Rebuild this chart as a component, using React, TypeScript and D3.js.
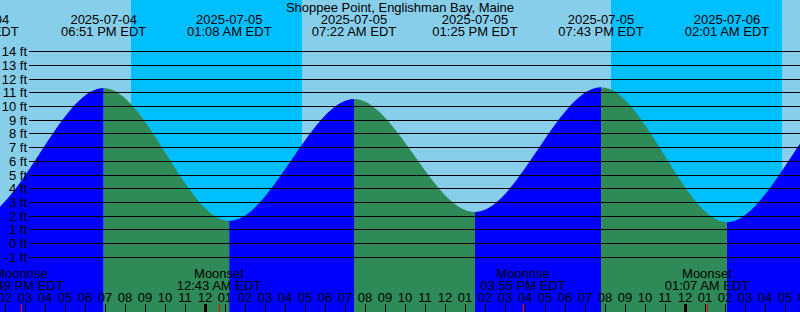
import React, { useEffect, useRef } from "react";
import * as d3 from "d3";

const title = "Shoppee Point, Englishman Bay, Maine";

// wall clock times in EDT, treated as UTC so the browser zone does not matter
const startTime = "2025-07-04 13:40";
const endTime = "2025-07-06 05:40";

// high / low tides (first and last are off the chart, they only shape the curve)
const tideTimes = [
  "2025-07-04 06:05",
  "2025-07-04 12:28",
  "2025-07-04 18:51",
  "2025-07-05 01:08",
  "2025-07-05 07:22",
  "2025-07-05 13:25",
  "2025-07-05 19:43",
  "2025-07-06 02:01",
  "2025-07-06 08:18",
  "2025-07-06 14:30",
];
const tideHeights = [10.7, 1.8, 11.35, 1.65, 10.55, 2.3, 11.4, 1.55, 10.8, 2.1];

const sunsetTimes = ["2025-07-04 20:13", "2025-07-05 20:13"];
const sunriseTimes = ["2025-07-05 04:46", "2025-07-06 04:46"];

const moonNames = ["Moonrise", "Moonset", "Moonrise", "Moonset"];
const moonTimes = ["2025-07-04 14:49", "2025-07-05 00:43", "2025-07-05 15:55", "2025-07-06 01:07"];

const levelTicks = [-1, 0, 1, 2, 3, 4, 5, 6, 7, 8, 9, 10, 11, 12, 13, 14];

const nowTime = "2025-07-04 15:32";
const nowLevel = 6;

const parse = d3.utcParse("%Y-%m-%d %H:%M");

function TideChart() {
  const ref = useRef<SVGSVGElement>(null);

  useEffect(() => {
    const width = 800;
    const height = 312;
    const font = "Liberation Sans, Arial, sans-serif";
    const fontSize = 13;
    const dayColor = "#87ceeb";
    const nightColor = "#00bfff";
    const tickShift = -2;

    const svg = d3.select(ref.current);
    svg.selectAll("*").remove();

    const x = d3
      .scaleUtc()
      .domain([parse(startTime)!, parse(endTime)!])
      .range([0, width]);

    const y = d3.scaleLinear().domain([-1, 14]).range([257.3, 51.7]);

    // sky
    svg.append("rect").attr("width", width).attr("height", height).attr("fill", dayColor);
    sunsetTimes.forEach((s, i) => {
      const x0 = x(parse(s)!);
      const x1 = x(parse(sunriseTimes[i])!);
      svg
        .append("rect")
        .attr("x", x0)
        .attr("y", 0)
        .attr("width", x1 - x0)
        .attr("height", height)
        .attr("fill", nightColor);
    });

    // tide
    const tides = tideTimes.map((t, i) => ({ time: parse(t)!, level: tideHeights[i] }));
    const area = d3
      .area<{ time: Date; level: number }>()
      .x((d) => x(d.time))
      .y0(height)
      .y1((d) => y(d.level))
      .curve(d3.curveMonotoneX);

    const defs = svg.append("defs");
    for (let i = 0; i < tides.length - 1; i++) {
      const a = tides[i];
      const b = tides[i + 1];
      const id = "seg" + i;
      defs
        .append("clipPath")
        .attr("id", id)
        .append("rect")
        .attr("x", x(a.time))
        .attr("y", 0)
        .attr("width", x(b.time) - x(a.time))
        .attr("height", height);
      svg
        .append("path")
        .datum(tides)
        .attr("clip-path", `url(#${id})`)
        .attr("fill", b.level > a.level ? "#0000ff" : "#2e8b57")
        .attr("d", area);
    }

    // level grid
    const grid = svg.append("g");
    levelTicks.forEach((v) => {
      const yy = Math.floor(y(v)) + 0.5;
      grid
        .append("line")
        .attr("x1", 29)
        .attr("x2", width)
        .attr("y1", yy)
        .attr("y2", yy)
        .attr("stroke", "black")
        .attr("stroke-width", 1);
      grid
        .append("text")
        .attr("x", 27)
        .attr("y", yy + 4.5)
        .attr("text-anchor", "end")
        .attr("font-family", font)
        .attr("font-size", fontSize)
        .text(`${v} ft`);
    });

    // current level marker
    const nx = Math.round(x(parse(nowTime)!)) + 0.5;
    const ny = Math.floor(y(nowLevel)) + 0.5;
    svg
      .append("path")
      .attr("d", `M${nx - 4},${ny}H${nx + 4}M${nx},${ny - 4.5}V${ny + 4.5}`)
      .attr("stroke", "black")
      .attr("fill", "none");

    // title and tide labels
    svg
      .append("text")
      .attr("x", width / 2)
      .attr("y", 12)
      .attr("text-anchor", "middle")
      .attr("font-family", font)
      .attr("font-size", fontSize)
      .text(title);

    const fmtDate = d3.utcFormat("%Y-%m-%d");
    const fmtTime = d3.utcFormat("%I:%M %p EDT");
    const tideLabels = svg
      .append("g")
      .attr("font-family", font)
      .attr("font-size", fontSize)
      .attr("text-anchor", "middle");
    tides.forEach((d) => {
      const cx = x(d.time);
      tideLabels.append("text").attr("x", cx).attr("y", 24).text(fmtDate(d.time));
      tideLabels.append("text").attr("x", cx).attr("y", 36).text(fmtTime(d.time));
    });

    // bottom: moon events and hour axis
    const bottom = svg
      .append("g")
      .attr("transform", `translate(${tickShift},0)`)
      .attr("font-family", font)
      .attr("font-size", fontSize)
      .attr("text-anchor", "middle");

    moonTimes.forEach((m, i) => {
      const t = parse(m)!;
      const cx = x(t);
      bottom.append("text").attr("x", cx).attr("y", 278).text(moonNames[i]);
      bottom.append("text").attr("x", cx).attr("y", 290).text(fmtTime(t));
    });

    const hours = d3.utcHour.range(d3.utcHour.offset(x.domain()[0], -1), d3.utcHour.offset(x.domain()[1], 2));
    const fmtHour = d3.utcFormat("%I");
    hours.forEach((h) => {
      const hx = Math.round(x(h));
      const midnight = h.getUTCHours() === 0;
      bottom.append("text").attr("x", hx).attr("y", 301.5).text(fmtHour(h));
      bottom
        .append("rect")
        .attr("x", midnight ? hx - 1 : hx)
        .attr("y", 304)
        .attr("width", midnight ? 3 : 1)
        .attr("height", 8)
        .attr("fill", "black");
    });

    moonTimes.forEach((m) => {
      const mx = Math.round(x(parse(m)!));
      bottom
        .append("rect")
        .attr("x", mx)
        .attr("y", 304)
        .attr("width", 1)
        .attr("height", 8)
        .attr("fill", "red");
    });
  }, []);

  return (
    <svg
      ref={ref}
      width={800}
      height={312}
      style={{ position: "absolute", left: 0, top: 0, display: "block" }}
    />
  );
}

export default function App() {
  return <TideChart />;
}
